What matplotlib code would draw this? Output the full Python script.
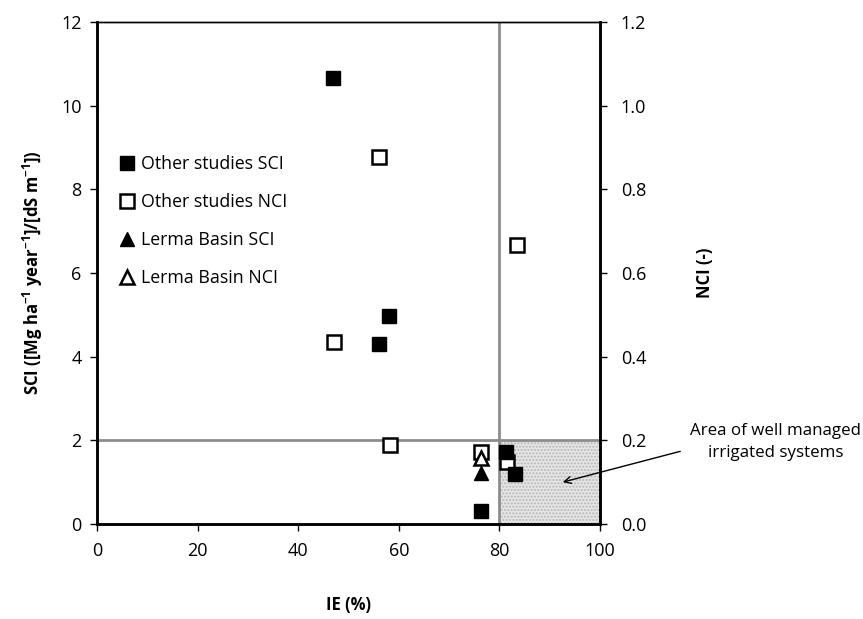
import matplotlib
matplotlib.use("Agg")
import matplotlib.pyplot as plt
from matplotlib.patches import Rectangle

plt.rcParams['font.family'] = ['Open Sans', 'DejaVu Sans']
plt.rcParams['mathtext.default'] = 'regular'

# other studies
ie_other = [47, 56, 58, 76.3, 81.4, 83.1]
sci_other = [10.67, 4.31, 4.96, 0.32, 1.73, 1.19]
ie_other_nci = [47.1, 56, 58.3, 76.3, 81.6, 83.5]
nci_other = [0.436, 0.878, 0.189, 0.171, 0.149, 0.667]

# Lerma basin
ie_lerma = [76.3]
sci_lerma = [1.21]
nci_lerma = [0.157]

fig = plt.figure(figsize=(8.63, 6.19), dpi=100)
ax = fig.add_axes([0.1124, 0.1535, 0.5828, 0.811])
ax2 = ax.twinx()
ax.set_zorder(ax2.get_zorder() + 1)
ax.patch.set_visible(False)

ax.set_xlim(0, 100)
ax.set_ylim(0, 12)
ax2.set_ylim(0, 1.2)

# well managed area and limits (drawn on the lower axis)
ax2.add_patch(Rectangle((80, 0), 20, 0.2, facecolor='#e6e6e6', edgecolor='#b5b5b5',
                        hatch='.....', linewidth=0, zorder=1))
ax2.axvline(80, color='#8c8c8c', lw=2, zorder=2)
ax2.axhline(0.2, color='#8c8c8c', lw=2, zorder=2)

ms = 9.5
l2, = ax2.plot(ie_other_nci, nci_other, 's', ms=ms, mfc='white', mec='black', mew=1.8,
               zorder=3, label='Other studies NCI')
l4, = ax2.plot(ie_lerma, nci_lerma, '^', ms=ms, mfc='white', mec='black', mew=1.8,
               zorder=3, label='Lerma Basin NCI')
l1, = ax.plot(ie_other, sci_other, 's', ms=ms, color='black', zorder=4,
              label='Other studies SCI')
l3, = ax.plot(ie_lerma, sci_lerma, '^', ms=ms, color='black', zorder=4,
              label='Lerma Basin SCI')

ax.legend(handles=[l1, l2, l3, l4], loc='upper left', bbox_to_anchor=(0.045, 0.735),
          frameon=False, fontsize=12.8, handlelength=0.8, handletextpad=0.4,
          labelspacing=1.12, borderpad=0, borderaxespad=0)

ax.annotate('Area of well managed\nirrigated systems', xy=(92.6, 1.0), xytext=(135, 1.96),
            xycoords='data', textcoords='data', ha='center', va='center', fontsize=12.2,
            linespacing=1.45, annotation_clip=False,
            arrowprops=dict(arrowstyle='->', color='black', lw=1, shrinkA=0, shrinkB=0,
                            relpos=(-0.06, 0.25)))

ax.set_xticks(range(0, 101, 20))
ax.set_yticks(range(0, 13, 2))
ax2.set_yticks([0, 0.2, 0.4, 0.6, 0.8, 1.0, 1.2])
ax2.set_yticklabels(['0.0', '0.2', '0.4', '0.6', '0.8', '1.0', '1.2'])

for a in (ax, ax2):
    a.tick_params(direction='out', length=5, width=1, labelsize=13, colors='black')
    for s in a.spines.values():
        s.set_linewidth(1.8)
    a.spines['top'].set_linewidth(1.0)
ax.tick_params(axis='x', pad=8)
ax.tick_params(axis='y', pad=6)
ax2.tick_params(axis='y', pad=10)

ax.set_xlabel('IE (%)', fontsize=12, fontweight='bold', labelpad=26)
ax.set_ylabel('SCI ([Mg ha$^{-1}$ year$^{-1}$]/[dS m$^{-1}$])', fontsize=12,
              fontweight='bold', labelpad=12)
ax2.set_ylabel('NCI (-)', fontsize=12, fontweight='bold', labelpad=36)

fig.savefig('out.png', dpi=100)
